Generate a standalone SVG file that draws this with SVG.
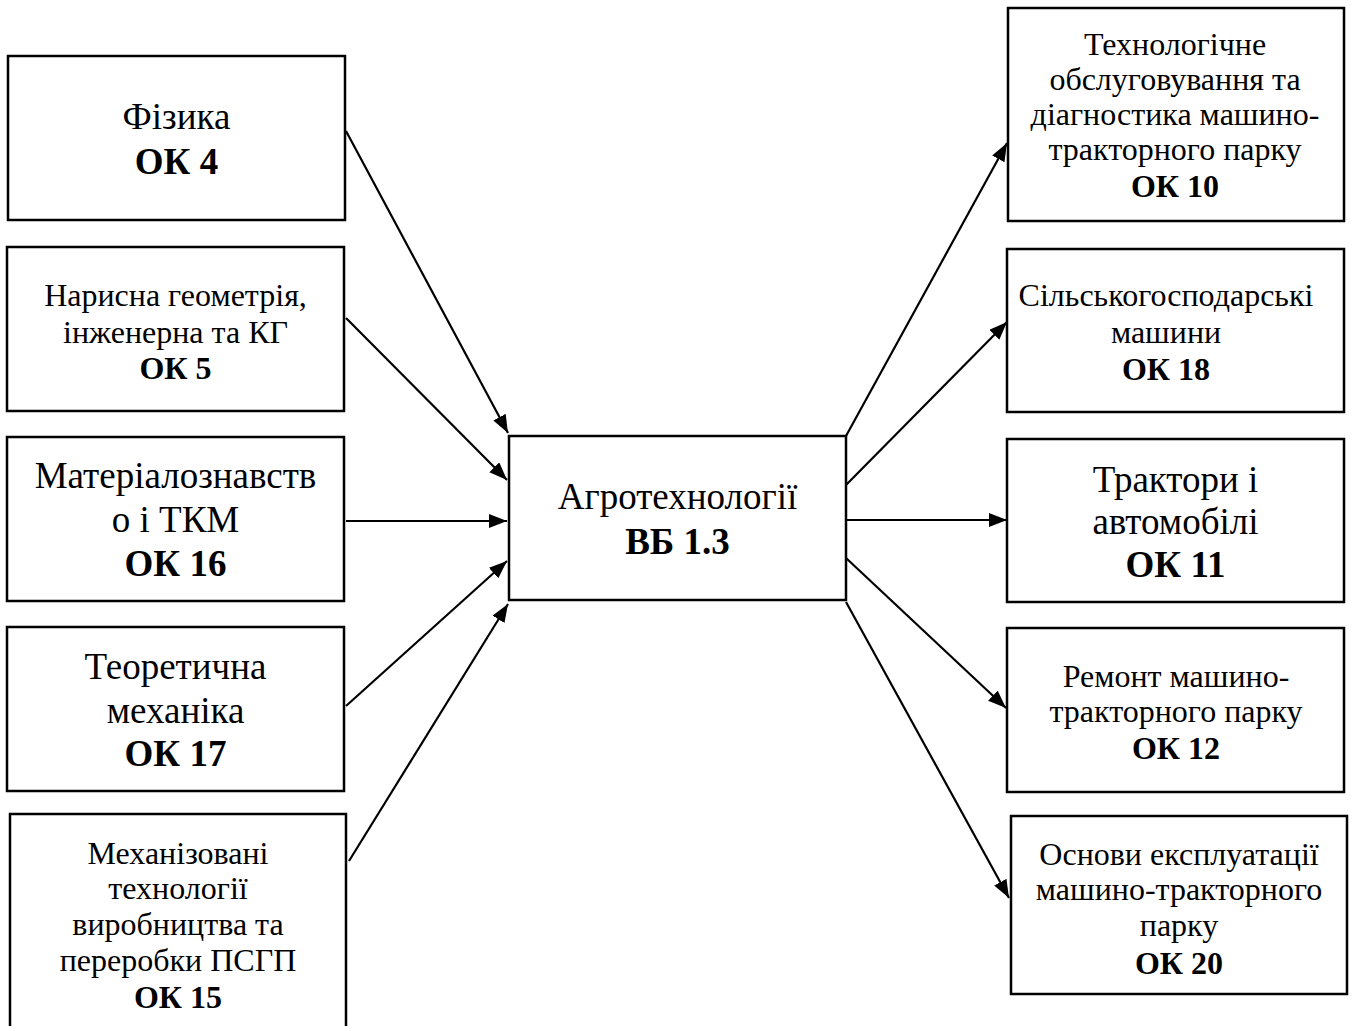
<svg xmlns="http://www.w3.org/2000/svg" width="1352" height="1026" viewBox="0 0 1352 1026">
<style>
.box{fill:#fff;stroke:#000;stroke-width:2.5}
.t{font-family:"Liberation Serif","Times New Roman",serif;text-anchor:middle;fill:#000}
.L{font-size:37px}
.S{font-size:32px}
.b{font-weight:bold}
.c{fill:none;stroke:#000;stroke-width:2.2;marker-end:url(#ah)}
</style>
<defs>
<marker id="ah" markerUnits="userSpaceOnUse" markerWidth="20" markerHeight="16" refX="18" refY="7" orient="auto">
<path d="M0,0 L18,7 L0,14 z" fill="#000"/>
</marker>
</defs>
<rect width="1352" height="1026" fill="#fff"/>
<g id="connectors">
<line class="c" x1="346" y1="131" x2="508" y2="433"/>
<line class="c" x1="346" y1="318" x2="507" y2="480"/>
<line class="c" x1="346" y1="521" x2="507" y2="521"/>
<line class="c" x1="346" y1="706" x2="507" y2="561"/>
<line class="c" x1="349" y1="861" x2="508" y2="604"/>
<line class="c" x1="846" y1="436" x2="1007" y2="143"/>
<line class="c" x1="846" y1="485" x2="1007" y2="322"/>
<line class="c" x1="846" y1="520" x2="1007" y2="520"/>
<line class="c" x1="846" y1="558" x2="1006" y2="708"/>
<line class="c" x1="846" y1="602" x2="1009" y2="898"/>
</g>
<g id="n-fizyka">
<rect class="box" x="8" y="56" width="337" height="164"/>
<text class="t L" x="176.5" y="129">Фізика</text>
<text class="t L b" x="176.5" y="174">ОК 4</text>
</g>
<g id="n-geom">
<rect class="box" x="7" y="247" width="337" height="164"/>
<text class="t S" x="175.5" y="306">Нарисна геометрія,</text>
<text class="t S" x="175.5" y="343">інженерна та КГ</text>
<text class="t S b" x="175.5" y="379">ОК 5</text>
</g>
<g id="n-mater">
<rect class="box" x="7" y="437" width="337" height="164"/>
<text class="t L" x="175.5" y="488">Матеріалознавств</text>
<text class="t L" x="175.5" y="532">о і ТКМ</text>
<text class="t L b" x="175.5" y="576">ОК 16</text>
</g>
<g id="n-teor">
<rect class="box" x="7" y="627" width="337" height="164"/>
<text class="t L" x="175.5" y="679">Теоретична</text>
<text class="t L" x="175.5" y="723">механіка</text>
<text class="t L b" x="175.5" y="766">ОК 17</text>
</g>
<g id="n-mekh">
<rect class="box" x="10" y="814" width="336" height="220"/>
<text class="t S" x="178" y="864">Механізовані</text>
<text class="t S" x="178" y="899">технології</text>
<text class="t S" x="178" y="935">виробництва та</text>
<text class="t S" x="178" y="971">переробки ПСГП</text>
<text class="t S b" x="178" y="1008">ОК 15</text>
</g>
<g id="n-agro">
<rect class="box" x="509" y="436" width="337" height="164"/>
<text class="t L" x="677.5" y="509">Агротехнології</text>
<text class="t L b" x="677.5" y="554">ВБ 1.3</text>
</g>
<g id="n-tekh">
<rect class="box" x="1008" y="8" width="336" height="213"/>
<text class="t S" x="1175" y="55">Технологічне</text>
<text class="t S" x="1175" y="90">обслуговування та</text>
<text class="t S" x="1175" y="125">діагностика машино-</text>
<text class="t S" x="1175" y="160">тракторного парку</text>
<text class="t S b" x="1175" y="197">ОК 10</text>
</g>
<g id="n-silsk">
<rect class="box" x="1007" y="249" width="337" height="163"/>
<text class="t S" x="1166" y="306">Сільськогосподарські</text>
<text class="t S" x="1166" y="343">машини</text>
<text class="t S b" x="1166" y="380">ОК 18</text>
</g>
<g id="n-trakt">
<rect class="box" x="1007" y="439" width="337" height="163"/>
<text class="t L" x="1175.5" y="492">Трактори і</text>
<text class="t L" x="1175.5" y="534">автомобілі</text>
<text class="t L b" x="1175.5" y="577">ОК 11</text>
</g>
<g id="n-remont">
<rect class="box" x="1007" y="628" width="337" height="164"/>
<text class="t S" x="1176" y="687">Ремонт машино-</text>
<text class="t S" x="1176" y="722">тракторного парку</text>
<text class="t S b" x="1176" y="759">ОК 12</text>
</g>
<g id="n-osnovy">
<rect class="box" x="1011" y="816" width="336" height="178"/>
<text class="t S" x="1179" y="865">Основи експлуатації</text>
<text class="t S" x="1179" y="900">машино-тракторного</text>
<text class="t S" x="1179" y="936">парку</text>
<text class="t S b" x="1179" y="974">ОК 20</text>
</g>
</svg>
